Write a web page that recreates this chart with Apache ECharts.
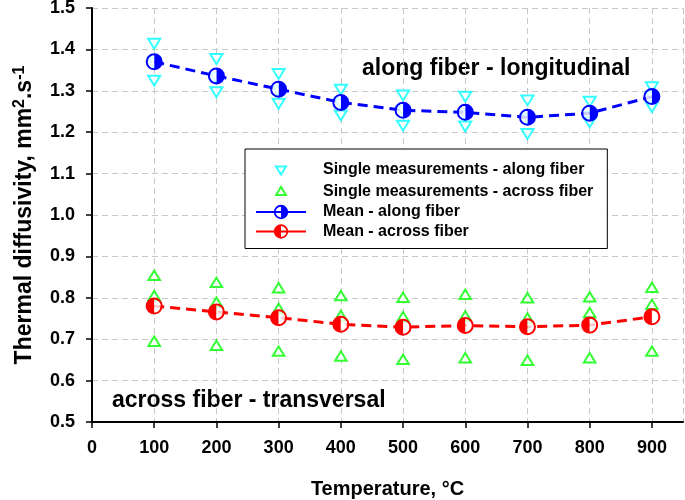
<!DOCTYPE html>
<html><head><meta charset="utf-8">
<script src="https://cdn.jsdelivr.net/npm/echarts@6/dist/echarts.min.js"></script>
<style>html,body{margin:0;padding:0;background:#fff}#c{width:685px;height:500px}</style>
</head><body><div id="c"></div>
<script>
// ---- data ----
const temperatures = [100, 200, 300, 400, 500, 600, 700, 800, 900];
const alongHigh  = [1.415, 1.378, 1.342, 1.304, 1.290, 1.287, 1.278, 1.275, 1.310];
const alongMid   = [1.369, 1.332, 1.300, 1.270, 1.252, 1.242, 1.233, 1.238, 1.286];
const alongLow   = [1.326, 1.298, 1.270, 1.242, 1.217, 1.215, 1.197, 1.225, 1.262];
const acrossHigh = [0.853, 0.836, 0.823, 0.804, 0.800, 0.807, 0.799, 0.801, 0.824];
const acrossMid  = [0.804, 0.788, 0.773, 0.756, 0.753, 0.755, 0.750, 0.763, 0.783];
const acrossLow  = [0.694, 0.684, 0.670, 0.658, 0.650, 0.654, 0.648, 0.654, 0.670];
const alongMean  = [1.370, 1.336, 1.304, 1.272, 1.253, 1.248, 1.236, 1.246, 1.286];
const acrossMean = [0.780, 0.766, 0.752, 0.736, 0.729, 0.733, 0.730, 0.734, 0.754];
const seriesNames = ['Single measurements - along fiber', 'Single measurements - across fiber',
                     'Mean - along fiber', 'Mean - across fiber'];
const xTicks = {min: 0, max: 950, step: 100};
const yTicks = {min: 0.5, max: 1.5, step: 0.1};

const FONT = '"Liberation Sans", Arial, sans-serif';
const pad = 'M0 0 M20 20 ';
const triDown = 'path://' + pad + 'M4.5 6 L15.5 6 L10 15 Z';
const triUp = 'path://' + pad + 'M4.5 14 L15.5 14 L10 5 Z';
// half disc + opposite half ring (single non-overlapping contours)
const halfRightFilled = 'path://M10 0 A10 10 0 0 1 10 20 Z M10 0 A10 10 0 0 0 10 20 L10 17.6 A7.6 7.6 0 0 1 10 2.4 Z';
const halfLeftFilled = 'path://M10 0 A10 10 0 0 0 10 20 Z M10 0 A10 10 0 0 1 10 20 L10 17.6 A7.6 7.6 0 0 0 10 2.4 Z';
const whiteLeft = 'path://M10 0 A10 10 0 0 0 10 20 Z';
const whiteRight = 'path://M10 0 A10 10 0 0 1 10 20 Z';
const MS = 17;                 // mean marker size
const innerR = MS / 2 * 0.74;  // white filler radius

function triples(a, b, c) {
  const out = [];
  temperatures.forEach((t, i) => { out.push([t, a[i]], [t, b[i]], [t, c[i]]); });
  return out;
}
const pairs = arr => temperatures.map((t, i) => [t, arr[i]]);

const chart = echarts.init(document.getElementById('c'));
chart.setOption({
  animation: false,
  backgroundColor: '#fff',
  textStyle: {fontFamily: FONT},
  grid: {left: 92, right: 2, top: 8, bottom: 78, containLabel: false, outerBoundsMode: 'none'},
  xAxis: {
    type: 'value', min: xTicks.min, max: xTicks.max, interval: xTicks.step,
    name: 'Temperature, °C', nameLocation: 'middle', nameGap: 57,
    nameTextStyle: {fontSize: 20, fontWeight: 'bold', color: '#000', fontFamily: FONT},
    axisLine: {lineStyle: {color: '#000', width: 2}},
    axisTick: {length: 6, lineStyle: {color: '#000', width: 1.5}},
    axisLabel: {color: '#000', fontSize: 18, fontWeight: 'bold', margin: 17, showMaxLabel: false, fontFamily: FONT},
    splitLine: {show: true, lineStyle: {color: '#c8c8c8', type: [6, 4], width: 1}}
  },
  yAxis: {
    type: 'value', min: yTicks.min, max: yTicks.max, interval: yTicks.step,
    name: 'Thermal diffusivity, mm{sup|2}.s{sup|-1}', nameLocation: 'middle', nameGap: 54,
    nameTextStyle: {fontSize: 23, fontWeight: 'bold', color: '#000', fontFamily: FONT,
      rich: {sup: {fontSize: 16, fontWeight: 'bold', color: '#000', fontFamily: FONT, padding: [0, 0, 10, 0]}}},
    axisLine: {show: true, lineStyle: {color: '#000', width: 2}},
    axisTick: {show: true, length: 6, lineStyle: {color: '#000', width: 1.5}},
    axisLabel: {color: '#000', fontSize: 18, fontWeight: 'bold', margin: 17, fontFamily: FONT,
      formatter: v => v.toFixed(1)},
    splitLine: {show: true, lineStyle: {color: '#c8c8c8', type: [6, 4], width: 1}}
  },
  legend: {
    orient: 'vertical', left: 245, top: 149,
    padding: [11, 14, 8, 10],
    itemWidth: 50, itemHeight: 18, itemGap: 1.5,
    backgroundColor: '#fff', borderColor: '#000', borderWidth: 1,
    textStyle: {fontSize: 16, lineHeight: 18, fontWeight: 'bold', color: '#000', fontFamily: FONT, padding: [0, 0, 0, 12]},
    data: [
      {name: seriesNames[0]},
      {name: seriesNames[1]},
      {name: seriesNames[2], lineStyle: {type: 'solid'}},
      {name: seriesNames[3], lineStyle: {type: 'solid'}}
    ]
  },
  graphic: [
    {type: 'text', left: 362, top: 57, style: {text: 'along fiber - longitudinal', font: 'bold 23px ' + FONT, fill: '#000'}},
    {type: 'text', left: 112, top: 389, style: {text: 'across fiber - transversal', font: 'bold 23px ' + FONT, fill: '#000'}}
  ],
  series: [
    {name: seriesNames[0], type: 'scatter', z: 2, data: triples(alongHigh, alongMid, alongLow),
      symbol: triDown, symbolSize: 22,
      itemStyle: {color: '#fff', borderColor: '#00ffff', borderWidth: 2}},
    {name: seriesNames[1], type: 'scatter', z: 2, data: triples(acrossHigh, acrossMid, acrossLow),
      symbol: triUp, symbolSize: 21,
      itemStyle: {color: '#fff', borderColor: '#00ff00', borderWidth: 2}},
    {name: seriesNames[2], type: 'line', z: 3, data: pairs(alongMean),
      symbol: halfRightFilled, symbolSize: MS, showAllSymbol: true,
      itemStyle: {color: '#0000ff'},
      lineStyle: {color: '#0000ff', width: 3, type: [10, 6]}},
    {name: '_fillAlong', type: 'scatter', z: 4, silent: true, data: pairs(alongMean),
      symbol: whiteLeft, symbolSize: [innerR, innerR * 2], symbolOffset: [-innerR / 2, 0],
      itemStyle: {color: '#fff'}},
    {name: seriesNames[3], type: 'line', z: 3, data: pairs(acrossMean),
      symbol: halfLeftFilled, symbolSize: MS, showAllSymbol: true,
      itemStyle: {color: '#ff0000'},
      lineStyle: {color: '#ff0000', width: 3, type: [10, 6]}},
    {name: '_fillAcross', type: 'scatter', z: 4, silent: true, data: pairs(acrossMean),
      symbol: whiteRight, symbolSize: [innerR, innerR * 2], symbolOffset: [innerR / 2, 0],
      itemStyle: {color: '#fff'}}
  ]
});
</script></body></html>
